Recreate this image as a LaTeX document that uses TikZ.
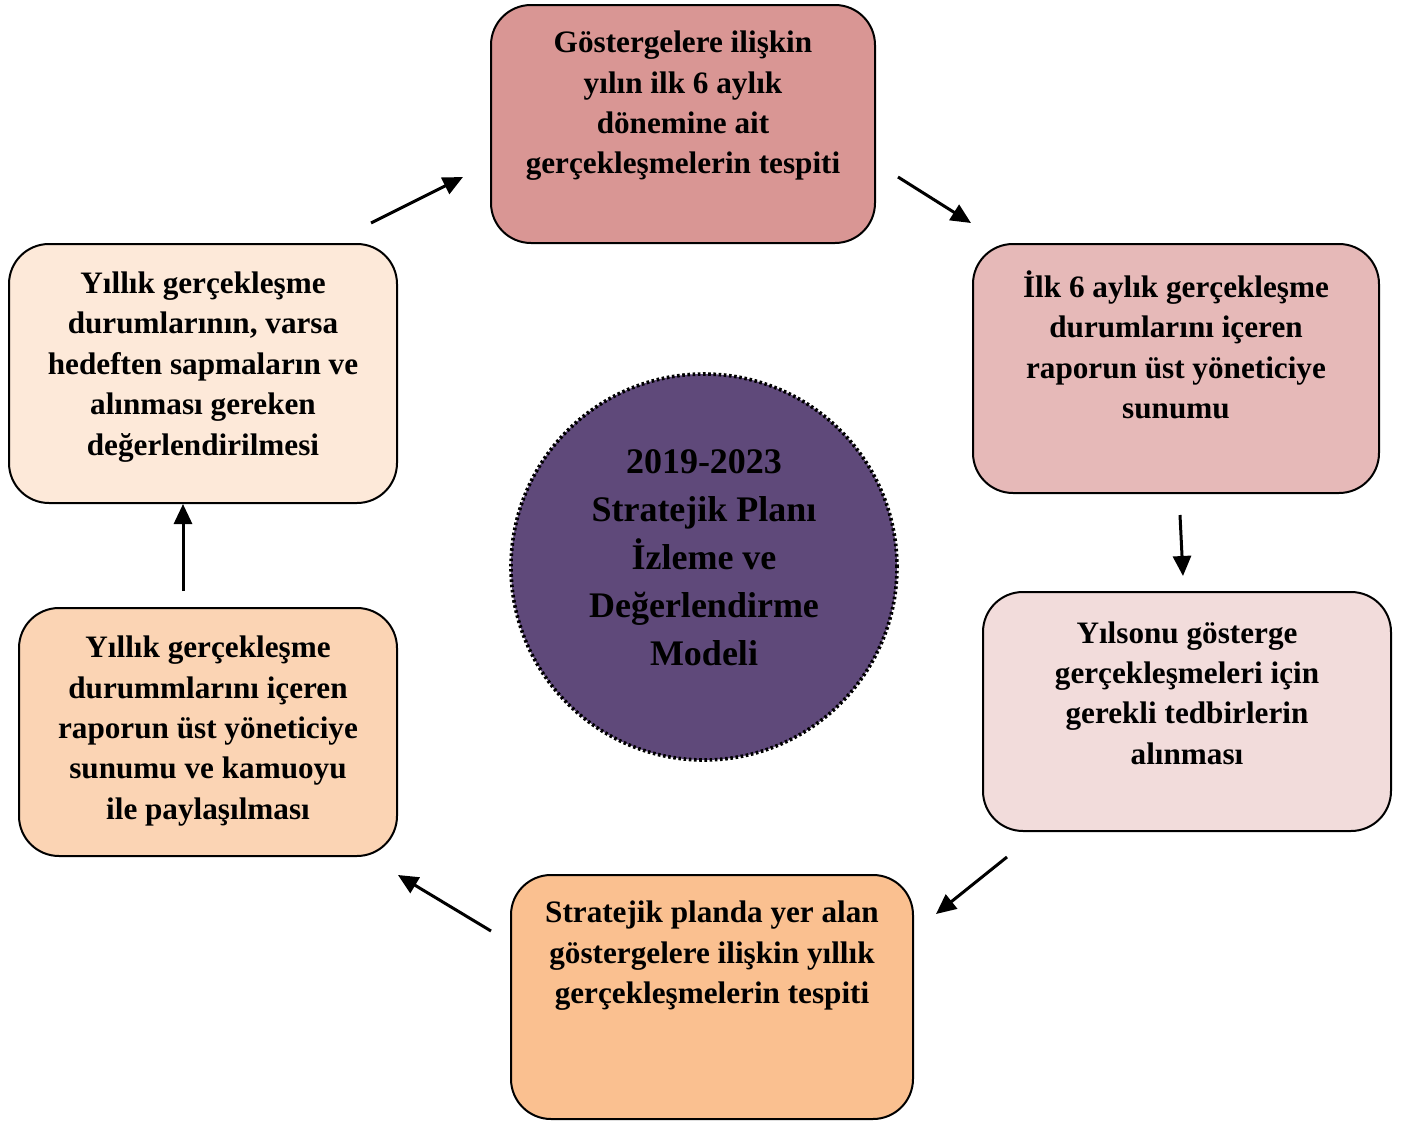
\documentclass[tikz,border=0pt]{standalone}
\usepackage{fontspec}
\setmainfont{Liberation Serif}
\usetikzlibrary{arrows.meta}
\definecolor{roseA}{HTML}{D99694}
\definecolor{roseB}{HTML}{E6B9B8}
\definecolor{roseC}{HTML}{F2DCDB}
\definecolor{peachA}{HTML}{FAC090}
\definecolor{peachB}{HTML}{FBD4B4}
\definecolor{peachC}{HTML}{FDE9D9}
\definecolor{plum}{HTML}{5F497A}
\tikzset{
  box_n/.style = {draw=black, line width=1pt, rounded corners=20pt,
    rectangle, inner sep=0pt},
  txt_n/.style = {align=center, inner sep=0pt, text centered,
    font=\fontsize{15.6}{20.2}\selectfont\bfseries},
  model_n/.style = {circle, fill=plum, draw=black, line width=1.8pt,
    dash pattern=on 1.3pt off 1.3pt, inner sep=0pt, minimum size=193pt},% orta daire
  model_txt/.style = {align=center, inner sep=0pt,
    font=\fontsize{18}{24}\selectfont\bfseries},
  flow/.style = {->, line width=1.5pt},
}

\begin{document}
\begin{tikzpicture}[x=0.5pt, y=-0.5pt, >={Triangle[length=10pt,width=9pt]}]
\useasboundingbox (0,0) rectangle (1410,1124);

% kutular
\node [box_n, fill=roseA, minimum width=192pt, minimum height=119pt] (b1) at (683,124) {};
\node [box_n, fill=roseB, minimum width=203pt, minimum height=124.5pt] (b2) at (1176,368.5) {};
\node [box_n, fill=roseC, minimum width=204pt, minimum height=119.5pt] (b3) at (1187,711.5) {};
\node [box_n, fill=peachA, minimum width=201pt, minimum height=122pt] (b4) at (712,997) {};
\node [box_n, fill=peachB, minimum width=189pt, minimum height=124pt] (b5) at (208,732) {};
\node [box_n, fill=peachC, minimum width=194pt, minimum height=129.5pt] (b6) at (203,373.5) {};

% metinler
\node [txt_n] (t1) at (683,106) {Göstergelere ilişkin\\yılın ilk 6 aylık\\dönemine ait\\gerçekleşmelerin tespiti};
\node [txt_n] (t2) at (1176,345) {İlk 6 aylık gerçekleşme\\durumlarını içeren\\raporun üst yöneticiye\\sunumu};
\node [txt_n] (t3) at (1187,693) {Yılsonu gösterge\\gerçekleşmeleri için\\gerekli tedbirlerin\\alınması};
\node [txt_n] (t4) at (712,956) {Stratejik planda yer alan\\göstergelere ilişkin yıllık\\gerçekleşmelerin tespiti};
\node [txt_n] (t5) at (208,731) {Yıllık gerçekleşme\\durummlarını içeren\\raporun üst yöneticiye\\sunumu ve kamuoyu\\ile paylaşılması};
\node [txt_n] (t6) at (203,367) {Yıllık gerçekleşme\\durumlarının, varsa\\hedeften sapmaların ve\\alınması gereken\\değerlendirilmesi};

% orta
\node [model_n] (c) at (704,567) {};
\node [model_txt] (ct) at (704,558) {2019-2023\\Stratejik Planı\\İzleme ve\\Değerlendirme\\Modeli};

% oklar
\coordinate (a1s) at (371,223); \coordinate (a1e) at (463,177);
\coordinate (a2s) at (898,177); \coordinate (a2e) at (971,223);
\coordinate (a3s) at (1180,515); \coordinate (a3e) at (1183,576);
\coordinate (a4s) at (1007,857); \coordinate (a4e) at (936,914);
\coordinate (a5s) at (491,931); \coordinate (a5e) at (398,875);
\coordinate (a6s) at (183,591); \coordinate (a6e) at (183,504);
\draw [flow] (a1s) -- (a1e);
\draw [flow] (a2s) -- (a2e);
\draw [flow] (a3s) -- (a3e);
\draw [flow] (a4s) -- (a4e);
\draw [flow] (a5s) -- (a5e);
\draw [flow] (a6s) -- (a6e);
\end{tikzpicture}
\end{document}
